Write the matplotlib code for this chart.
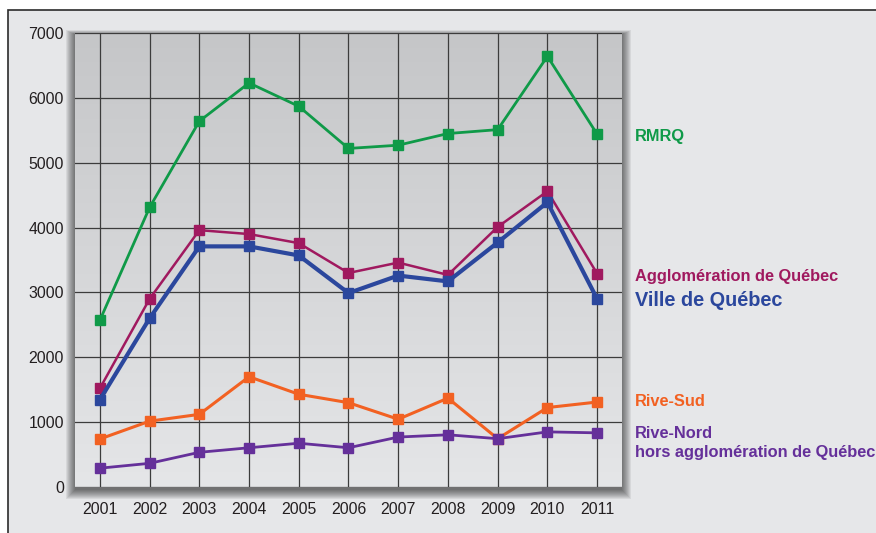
import numpy as np
import matplotlib
matplotlib.use('Agg')
import matplotlib.pyplot as plt
from matplotlib.patches import Rectangle

plt.rcParams['font.family'] = ['Liberation Sans', 'DejaVu Sans']

# data
years = [2001, 2002, 2003, 2004, 2005, 2006, 2007, 2008, 2009, 2010, 2011]
rmrq = [2570, 4310, 5640, 6230, 5870, 5220, 5270, 5450, 5510, 6640, 5440]
agglo = [1520, 2900, 3960, 3900, 3760, 3300, 3460, 3270, 4010, 4560, 3290]
ville = [1345, 2600, 3710, 3710, 3570, 2990, 3260, 3170, 3770, 4390, 2900]
rive_sud = [740, 1015, 1120, 1700, 1430, 1300, 1045, 1370, 745, 1225, 1310]
rive_nord = [290, 365, 535, 605, 675, 605, 770, 805, 745, 850, 835]
y_ticks = [0, 1000, 2000, 3000, 4000, 5000, 6000, 7000]

W, H = 876, 533
fig = plt.figure(figsize=(W / 100, H / 100), dpi=100)
fig.patch.set_facecolor('white')


def px(x, y, w, h):
    # pixel box (top-left origin) -> figure fraction
    return x / W, 1 - (y + h) / H, w / W, h / H


# outer frame with light background
x0, y0, w0, h0 = px(8, 10, 900, 600)
fig.patches.append(Rectangle((x0, y0), w0, h0, transform=fig.transFigure,
                             facecolor='#e6e7e9', edgecolor='#2b2b2b',
                             linewidth=1.2, zorder=0))

# soft drop shadow behind the panel
pl, pt, pr, pb = 75, 33, 622, 487
for i in range(10, 0, -1):
    x, y, w, h = px(pl - i + 1, pt - i * 0.5 + 2, (pr - pl) + 2 * i - 2, (pb - pt) + i * 1.5)
    fig.patches.append(Rectangle((x, y), w, h, transform=fig.transFigure,
                                 facecolor='black', edgecolor='none',
                                 alpha=0.065, zorder=0.5))

ax = fig.add_axes(px(pl, pt, pr - pl, pb - pt))
ax.set_zorder(1)
ax.set_facecolor('none')

# vertical gradient for the panel, darker at the top
grad = np.linspace(0, 1, 256).reshape(-1, 1)
top_c = np.array([0xc5, 0xc6, 0xc8]) / 255
bot_c = np.array([0xe5, 0xe6, 0xe8]) / 255
img = top_c * (1 - grad[..., None]) + bot_c * grad[..., None]
img = img.reshape(256, 1, 3)
ax.imshow(img, extent=[0, 1, 0, 1], transform=ax.transAxes, aspect='auto', zorder=0)

ax.set_xlim(2000.5, 2011.5)
ax.set_ylim(0, 7000)
ax.set_xticks(years)
ax.set_yticks(y_ticks)
ax.grid(True, color='#3c3c3c', linewidth=0.9, zorder=1)
ax.tick_params(length=0, labelsize=11.4, colors='#231f20', pad=8)
ax.tick_params(axis='x', pad=11)
for s in ax.spines.values():
    s.set_visible(False)

series = [
    (rmrq, '#0f9a48', 2.0),
    (agglo, '#a0195f', 1.8),
    (rive_sud, '#f26122', 2.2),
    (rive_nord, '#65309a', 2.0),
    (ville, '#2b479d', 3.0),
]
for vals, col, lw in series:
    ax.plot(years, vals, color=col, linewidth=lw, marker='s', markersize=7,
            zorder=3, clip_on=False)

lx = 635 / W
fig.text(lx, 1 - 136 / H, 'RMRQ', color='#0f9a48', fontsize=11.8,
         fontweight='bold', va='center')
fig.text(lx, 1 - 276 / H, 'Agglomération de Québec', color='#a0195f', fontsize=11.8,
         fontweight='bold', va='center')
fig.text(lx, 1 - 300 / H, 'Ville de Québec', color='#2b479d', fontsize=14.3,
         fontweight='bold', va='center')
fig.text(lx, 1 - 402 / H, 'Rive-Sud', color='#f26122', fontsize=11.8,
         fontweight='bold', va='center')
fig.text(lx, 1 - 433 / H, 'Rive-Nord', color='#65309a', fontsize=11.8,
         fontweight='bold', va='center')
fig.text(lx, 1 - 452 / H, 'hors agglomération de Québec', color='#65309a',
         fontsize=11.8, fontweight='bold', va='center')

fig.savefig('out.png', dpi=100)
